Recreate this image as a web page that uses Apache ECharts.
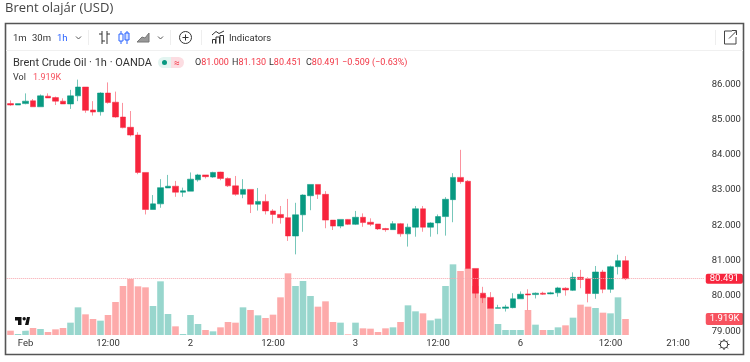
<!DOCTYPE html>
<html>
<head>
<meta charset="utf-8">
<title>Brent olajár (USD)</title>
<script src="https://cdn.jsdelivr.net/npm/echarts@6/dist/echarts.min.js"></script>
<style>
    html, body { margin: 0; padding: 0; background: #fff; }
    #chart { width: 750px; height: 362px; }
</style>
</head>
<body>
<div id="chart"></div>
<script>
// values, one row per hour: open, close, low, high
const candles = [
    [85.45,85.41,85.39,85.54],[85.41,85.45,85.41,85.45],[85.45,85.52,85.43,85.74],[85.53,85.36,85.36,85.58],
    [85.36,85.67,85.36,85.71],[85.66,85.61,85.61,85.74],[85.62,85.52,85.41,85.65],[85.52,85.44,85.44,85.60],
    [85.44,85.67,85.30,85.84],[85.67,85.92,85.52,86.13],[85.92,85.26,85.19,85.92],[85.27,85.21,85.11,85.52],
    [85.22,85.75,85.11,85.77],[85.75,85.48,85.45,86.05],[85.49,85.07,85.05,85.79],[85.07,84.77,84.75,85.47],
    [84.78,84.56,84.52,85.24],[84.56,83.50,83.45,84.64],[83.50,82.45,82.31,83.50],[82.45,82.61,82.45,82.86],
    [82.61,83.07,82.50,83.31],[83.06,83.11,83.06,83.43],[83.11,82.94,82.81,83.26],[82.94,82.98,82.81,83.07],
    [82.97,83.31,82.97,83.50],[83.29,83.43,83.24,83.46],[83.43,83.38,83.33,83.43],[83.37,83.50,83.35,83.52],
    [83.51,83.33,83.28,83.52],[83.33,83.12,83.09,83.36],[83.12,82.88,82.84,83.40],[82.88,83.02,82.77,83.31],
    [83.02,82.60,82.35,83.02],[82.60,82.68,82.42,83.06],[82.68,82.41,82.31,82.88],[82.41,82.31,82.05,82.46],
    [82.31,82.22,82.05,82.55],[82.22,81.70,81.56,82.75],[81.70,82.30,81.18,82.64],[82.30,82.86,81.82,82.88],
    [82.84,83.16,82.43,83.16],[83.16,82.88,82.75,83.16],[82.88,82.15,81.92,82.97],[82.15,81.98,81.87,82.15],
    [81.98,82.17,81.92,82.17],[82.17,82.03,82.01,82.18],[82.03,82.23,82.01,82.41],[82.23,82.08,81.96,82.34],
    [82.09,82.03,81.98,82.20],[82.04,81.90,81.87,82.04],[81.91,81.88,81.82,81.93],[81.88,82.05,81.88,82.12],
    [82.05,81.76,81.68,82.07],[81.76,81.95,81.40,82.05],[81.95,82.47,81.68,82.55],[82.47,81.95,81.82,82.55],
    [81.95,82.07,81.68,82.09],[82.07,82.25,81.75,82.31],[82.25,82.74,81.71,82.80],[82.73,83.36,82.09,83.48],
    [83.36,83.24,83.18,84.14],[83.25,80.78,80.78,83.28],[80.78,80.08,79.94,80.78],[80.08,79.95,79.80,80.26],
    [79.96,79.65,79.65,80.11],[79.65,79.67,79.65,79.75],[79.65,79.69,79.56,79.75],[79.67,79.92,79.65,80.08],
    [79.92,80.05,79.92,80.13],[80.06,80.03,79.60,80.19],[80.04,80.08,79.93,80.10],[80.08,80.05,80.03,80.12],
    [80.06,80.09,80.05,80.12],[80.09,80.23,79.98,80.26],[80.22,80.17,80.01,80.25],[80.16,80.53,80.14,80.67],
    [80.53,80.47,80.22,80.74],[80.49,80.07,79.82,80.53],[80.07,80.68,79.92,80.85],[80.68,80.19,80.08,80.74],
    [80.19,80.83,80.09,80.86],[80.83,81.00,80.61,81.17],[81.000,80.491,80.451,81.130]
];
const volumes = [
    0.52,0.12,0.52,0.84,0.72,0.36,0.68,0.84,1.48,3.32,2.48,1.92,1.72,2.40,3.96,5.88,
    6.72,5.84,5.72,3.48,6.44,2.52,1.04,0.12,2.40,1.32,0.60,0.44,0.92,1.56,1.48,3.32,
    3.00,2.36,2.04,2.44,4.52,7.40,5.88,6.48,4.68,3.40,4.04,1.56,1.48,0.08,1.48,0.80,
    0.76,0.36,0.80,0.92,1.56,3.56,2.84,2.60,1.76,1.96,5.88,8.48,7.68,8.00,5.88,4.80,
    3.24,1.32,0.60,0.60,0.60,3.00,1.24,0.60,0.60,0.92,1.16,2.08,3.64,3.40,3.24,2.68,
    2.60,4.52,1.919
];
const tickPositions = [2, 13, 24, 35, 46, 57, 68, 80, 89];
const tickLabels = ['Feb', '12:00', '2', '12:00', '3', '12:00', '6', '12:00', '21:00'];
const slotCount = 93;   // candles plus the empty hours on the right
const lastPrice = 80.491;
const lastVolume = 1.919;

const UP = '#089981', DOWN = '#f7253d';
const FONT = 'Roboto, sans-serif';
const TITLE_FONT = '"Open Sans", sans-serif';
const NARROW = '"Liberation Sans Narrow", Roboto, sans-serif';
const categories = Array.from({ length: slotCount }, (_, i) => String(i));

const chart = echarts.init(document.getElementById('chart'));

function txt(x, y, text, size, fill, extra) {
    return {
        type: 'text', x: x, y: y, z: 20,
        style: Object.assign({ text: text, fontSize: size, fontFamily: FONT, fill: fill, verticalAlign: 'middle' }, extra || {})
    };
}
// toolbar icons are just a few short strokes
function strokes(segs, color) {
    return {
        type: 'group',
        children: segs.map(pts => ({
            type: 'polyline', z: 20, shape: { points: pts },
            style: { fill: null, stroke: color, lineWidth: 1 }
        }))
    };
}
function sep(x) {
    return { type: 'line', z: 20, shape: { x1: x, y1: 30, x2: x, y2: 45 }, style: { stroke: '#eeeeee', lineWidth: 1 } };
}

const legendRich = {
    k: { fontSize: 9, fontFamily: FONT, fill: '#333' },
    v: { fontSize: 9, fontFamily: FONT, fill: '#f23645' }
};

var option = {
    animation: false,
    backgroundColor: '#ffffff',
    grid: [
        { left: 6.75, width: 697.5, top: 48.9, height: 282.4 },
        { left: 6.75, width: 697.5, top: 255, height: 80 }
    ],
    xAxis: [
        {
            type: 'category', gridIndex: 0, data: categories,
            axisLine: { show: false }, axisTick: { show: false }, axisLabel: { show: false }, splitLine: { show: false }
        },
        {
            type: 'category', gridIndex: 1, data: categories,
            axisLine: { show: false }, axisTick: { show: false }, splitLine: { show: false },
            axisLabel: {
                interval: 0, margin: 4, fontSize: 9.5, fontFamily: NARROW, color: '#333',
                formatter: function (v, i) {
                    const p = tickPositions.indexOf(i);
                    return p < 0 ? '' : tickLabels[p];
                }
            }
        }
    ],
    yAxis: [
        {
            type: 'value', gridIndex: 0, position: 'right', min: 79, max: 87, interval: 1,
            axisLine: { show: false }, axisTick: { show: false }, splitLine: { show: false },
            axisLabel: {
                showMaxLabel: false, margin: 7.5, fontSize: 9.5, fontFamily: NARROW, color: '#333',
                formatter: v => v.toFixed(3)
            }
        },
        {
            type: 'value', gridIndex: 1, min: 0, max: 9.6,
            axisLine: { show: false }, axisTick: { show: false }, splitLine: { show: false }, axisLabel: { show: false }
        }
    ],
    series: [
        {
            name: 'Vol', type: 'bar', xAxisIndex: 1, yAxisIndex: 1, z: 1,
            barWidth: 6.6,
            data: volumes.map((v, i) => ({
                value: v,
                itemStyle: { color: candles[i][1] >= candles[i][0] ? '#98d6cd' : '#fdaaaa' }
            })),
            markLine: {
                silent: true, symbol: 'none', animation: false,
                lineStyle: { color: 'rgba(0,0,0,0)' },
                label: {
                    position: 'end', distance: 1.5, formatter: lastVolume + 'K', fontSize: 9.5, fontFamily: NARROW, color: '#fff',
                    backgroundColor: '#f7525f', padding: [1, 4, 1, 4], lineHeight: 10, borderRadius: 2
                },
                data: [{ yAxis: lastVolume }]
            }
        },
        {
            name: 'Brent', type: 'candlestick', xAxisIndex: 0, yAxisIndex: 0, z: 3,
            barWidth: 5.6,
            data: candles,
            itemStyle: {
                color: UP, color0: DOWN,
                borderColor: 'rgba(8,153,129,0.55)', borderColor0: 'rgba(247,37,61,0.5)', borderWidth: 1
            },
            markLine: {
                silent: true, symbol: 'none', animation: false, z: 5,
                lineStyle: { color: '#f7a6ad', type: 'dotted', width: 1 },
                label: {
                    position: 'end', distance: 1.5, formatter: lastPrice.toFixed(3), fontSize: 9.5, fontFamily: NARROW, color: '#fff',
                    backgroundColor: '#f7253d', padding: [0, 4, 0, 4], lineHeight: 10, borderRadius: 2
                },
                data: [{ yAxis: lastPrice }]
            }
        }
    ],
    graphic: [
        txt(5, 8.5, 'Brent olajár (USD)', 13, '#444', { fontFamily: TITLE_FONT }),
        // frame and toolbar
        { type: 'rect', z: 19, shape: { x: 5.5, y: 23.5, width: 738, height: 331 }, style: { fill: null, stroke: '#555', lineWidth: 1.6 } },
        { type: 'line', z: 20, shape: { x1: 6, y1: 50.5, x2: 743, y2: 50.5 }, style: { stroke: '#f0f0f0', lineWidth: 1 } },
        txt(13, 38.5, '1m', 9.5, '#333'),
        txt(32, 38.5, '30m', 9.5, '#333'),
        txt(57, 38.5, '1h', 9.5, '#2962ff'),
        strokes([[[76, 36.5], [78.5, 39], [81, 36.5]]], '#555'),
        sep(88.5),
        strokes([[[102, 31], [102, 44]], [[99, 34], [102, 34]], [[102, 41], [105, 41]], [[107, 31], [107, 44]], [[107, 34], [110, 34]]], '#333'),
        strokes([[[121, 31], [121, 44]], [[127, 31], [127, 44]]], '#2962ff'),
        { type: 'rect', z: 21, shape: { x: 119, y: 34, width: 4, height: 7 }, style: { fill: '#fff', stroke: '#2962ff' } },
        { type: 'rect', z: 21, shape: { x: 125, y: 33, width: 4, height: 7 }, style: { fill: '#cfdcff', stroke: '#2962ff' } },
        { type: 'polygon', z: 20, shape: { points: [[137, 42], [142, 37], [145, 38], [149, 33], [149, 42]] }, style: { fill: '#999', stroke: '#777' } },
        strokes([[[158, 36.5], [160.5, 39], [163, 36.5]]], '#555'),
        sep(170.5),
        { type: 'circle', z: 20, shape: { cx: 185.5, cy: 37.5, r: 6 }, style: { fill: null, stroke: '#333', lineWidth: 1 } },
        strokes([[[182.5, 37.5], [188.5, 37.5]], [[185.5, 34.5], [185.5, 40.5]]], '#333'),
        sep(201.5),
        strokes([
            [[212.5, 43.5], [212.5, 39.5], [215.5, 39.5], [215.5, 43.5]],
            [[216, 43.5], [216, 37], [219.5, 37], [219.5, 43.5]],
            [[220, 43.5], [220, 35.5], [223.5, 35.5], [223.5, 43.5]],
            [[212, 35], [216, 31.5], [219, 33.5], [224, 31]]
        ], '#333'),
        txt(229, 38.5, 'Indicators', 9.5, '#333'),
        sep(715.5),
        strokes([
            [[732, 31], [724.5, 31], [724.5, 44], [736, 44], [736, 37]],
            [[729, 38.5], [736.5, 31]],
            [[732, 30.5], [736.5, 30.5], [736.5, 35]]
        ], '#444'),
        // legend rows
        txt(13, 63.5, 'Brent Crude Oil · 1h · OANDA', 11, '#333'),
        { type: 'rect', z: 20, shape: { x: 158, y: 57, width: 13, height: 11, r: [5.5, 0, 0, 5.5] }, style: { fill: '#e3f5f1' } },
        { type: 'rect', z: 20, shape: { x: 171, y: 57, width: 13, height: 11, r: [0, 5.5, 5.5, 0] }, style: { fill: '#fcdde2' } },
        { type: 'circle', z: 21, shape: { cx: 164.5, cy: 62.5, r: 2.5 }, style: { fill: UP } },
        txt(174, 63, '≈', 10, '#f23645'),
        txt(195, 63, '{k|O}{v|81.000}', 9, '#333', { rich: legendRich }),
        txt(232, 63, '{k|H}{v|81.130}', 9, '#333', { rich: legendRich }),
        txt(269, 63, '{k|L}{v|80.451}', 9, '#333', { rich: legendRich }),
        txt(306, 63, '{k|C}{v|80.491}', 9, '#333', { rich: legendRich }),
        txt(342, 63, '−0.509 (−0.63%)', 9, '#f23645'),
        txt(13, 78, 'Vol', 9, '#333'),
        txt(33, 78, '1.919K', 9, '#f7525f'),
        // TradingView mark
        { type: 'circle', z: 15, shape: { cx: 22.5, cy: 320.5, r: 10.5 }, style: { fill: '#fff', opacity: 0.75 } },
        { type: 'polygon', z: 20, shape: { points: [[15, 317], [21.5, 317], [21.5, 325], [18, 325], [18, 320.5], [15, 320.5]] }, style: { fill: '#111' } },
        { type: 'polygon', z: 20, shape: { points: [[25, 325], [27, 317], [30, 317], [28.5, 325]] }, style: { fill: '#111' } },
        { type: 'circle', z: 20, shape: { cx: 24.2, cy: 318.7, r: 1.7 }, style: { fill: '#111' } },
        // settings gear
        { type: 'circle', z: 20, shape: { cx: 724, cy: 344.5, r: 3.8 }, style: { fill: null, stroke: '#333', lineWidth: 1 } },
        strokes([
            [[724, 339], [724, 340.7]], [[724, 348.3], [724, 350]], [[718.5, 344.5], [720.2, 344.5]], [[727.8, 344.5], [729.5, 344.5]],
            [[720.1, 340.6], [721.3, 341.8]], [[726.7, 347.2], [727.9, 348.4]], [[727.9, 340.6], [726.7, 341.8]], [[721.3, 347.2], [720.1, 348.4]]
        ], '#333')
    ]
};

chart.setOption(option);
</script>
</body>
</html>
